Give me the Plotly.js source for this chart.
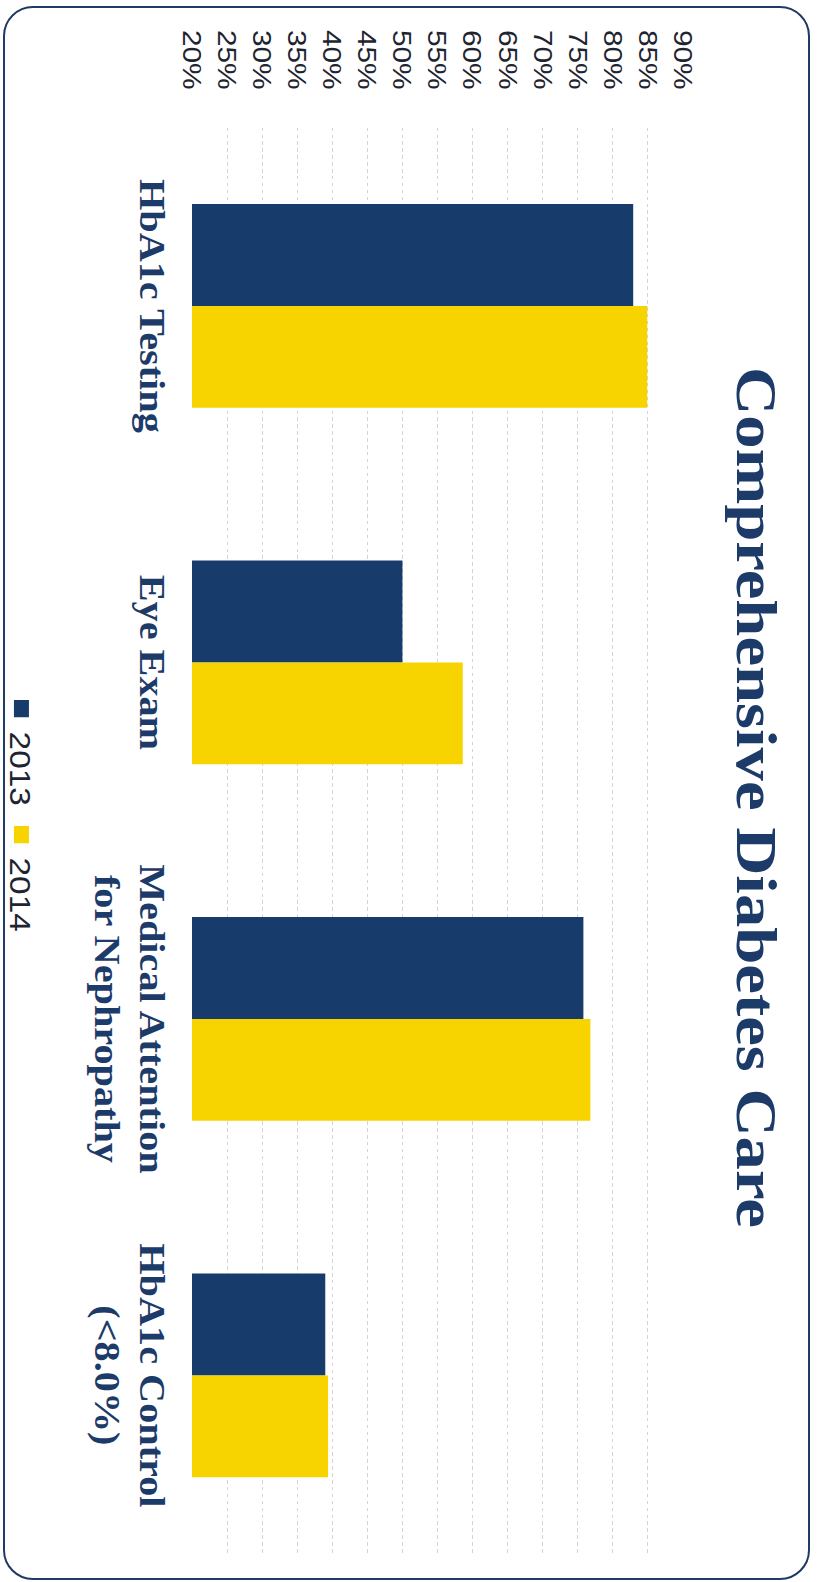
<!DOCTYPE html>
<html>
<head>
<meta charset="utf-8">
<script src="https://cdn.plot.ly/plotly-3.0.1.min.js"></script>
<style>
  html, body { margin: 0; padding: 0; width: 819px; height: 1582px; overflow: hidden; background: #ffffff; }
  /* the reference is a scan of a column chart turned a quarter clockwise and slightly stretched along its length */
  #chart { position: absolute; left: 0; top: 0; width: 1376px; height: 819px;
           transform-origin: 0 0; transform: translateX(819px) rotate(90deg) scaleX(1.15); }
  #frame { position: absolute; left: 3px; top: 6px; width: 803px; height: 1570px;
           border: 2.5px solid #1f3a63; border-radius: 30px; pointer-events: none; }
</style>
</head>
<body>
<div id="chart"></div>
<div id="frame"></div>
<script>
// ---- data ----
const categories = ['HbA1c Testing', 'Eye Exam', 'Medical Attention<br>for Nephropathy', 'HbA1c Control<br>(&lt;8.0%)'];
const seriesNames = ['2013', '2014'];
const values2013 = [82.9, 50.0, 75.8, 39.0];
const values2014 = [84.9, 58.6, 76.8, 39.4];
const tickValues = [20, 25, 30, 35, 40, 45, 50, 55, 60, 65, 70, 75, 80, 85, 90];
const chartTitle = 'Comprehensive Diabetes Care';

// ---- styles ----
const NAVY = '#173c6b';
const GOLD = '#f7d300';
const TEXT_NAVY = '#1c3b69';

const traces = [
  { type: 'bar', name: seriesNames[0], x: categories, y: values2013, marker: { color: NAVY }, showlegend: false },
  { type: 'bar', name: seriesNames[1], x: categories, y: values2014, marker: { color: GOLD }, showlegend: false },
  // legend entries
  { type: 'scatter', mode: 'markers', name: seriesNames[0], x: [null], y: [null],
    marker: { symbol: 'square', size: 15, color: NAVY }, showlegend: true },
  { type: 'scatter', mode: 'markers', name: seriesNames[1], x: [null], y: [null],
    marker: { symbol: 'square', size: 15, color: GOLD }, showlegend: true }
];

const layout = {
  width: 1376,
  height: 819,
  margin: { l: 111, r: 25, t: 136, b: 192, pad: 0 },
  paper_bgcolor: 'rgba(0,0,0,0)',
  plot_bgcolor: 'rgba(0,0,0,0)',
  barmode: 'group',
  bargap: 0.428,
  bargroupgap: 0,
  title: {
    text: chartTitle,
    font: { family: 'Liberation Serif', size: 58, weight: 'bold', color: TEXT_NAVY },
    x: 0.504, xanchor: 'center',
    y: 0.925, yanchor: 'middle'
  },
  xaxis: {
    type: 'category',
    showgrid: false, showline: false, zeroline: false, ticks: '',
    tickfont: { family: 'Liberation Serif', size: 35, weight: 'bold', color: TEXT_NAVY },
    ticklabelstandoff: 16
  },
  yaxis: {
    range: [20, 90],
    tickmode: 'array',
    tickvals: tickValues,
    ticktext: tickValues.map(v => v + '%'),
    showgrid: true, gridcolor: '#d4d4d4', gridwidth: 1, griddash: 'dot',
    showline: false, zeroline: false, ticks: '',
    tickfont: { family: 'Liberation Sans', size: 26, color: '#1e2430' },
    ticklabelstandoff: 32
  },
  showlegend: true,
  legend: {
    orientation: 'h',
    x: 0.48, xanchor: 'center',
    yref: 'container', y: 0.026, yanchor: 'middle',
    font: { family: 'Liberation Sans', size: 29, color: '#1e2430' },
    itemgap: 6,
    bgcolor: 'rgba(0,0,0,0)'
  }
};

Plotly.newPlot('chart', traces, layout, { staticPlot: true, displayModeBar: false });
</script>
</body>
</html>
